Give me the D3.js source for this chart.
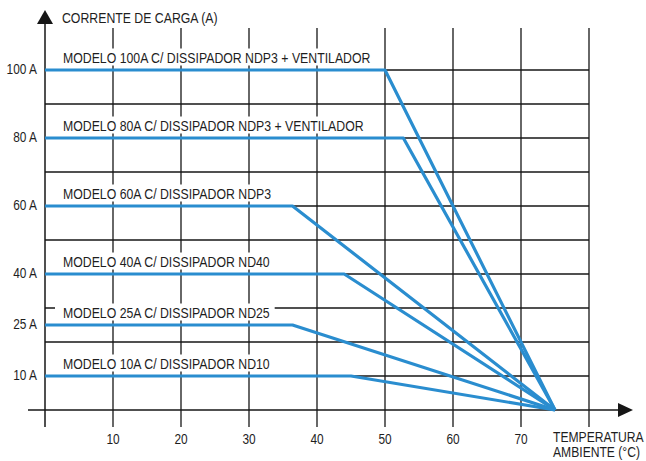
<!DOCTYPE html>
<html>
<head>
<meta charset="utf-8">
<script src="https://cdn.jsdelivr.net/npm/d3@7/dist/d3.min.js"></script>
<style>
  html, body { margin: 0; padding: 0; background: #fff; }
  svg { display: block; }
</style>
</head>
<body>
<script>
// ---- data ----
const modelLabels = [
  "MODELO 100A C/ DISSIPADOR NDP3 + VENTILADOR",
  "MODELO 80A C/ DISSIPADOR NDP3 + VENTILADOR",
  "MODELO 60A C/ DISSIPADOR NDP3",
  "MODELO 40A C/ DISSIPADOR ND40",
  "MODELO 25A C/ DISSIPADOR ND25",
  "MODELO 10A C/ DISSIPADOR ND10"
];
const ratedCurrents = [100, 80, 60, 40, 25, 10];
const kneeTemps = [50, 52.7, 36.4, 44, 36.4, 45];
const zeroCurrentTemp = 75;
const xGridTicks = [10, 20, 30, 40, 50, 60, 70, 80];
const xTickLabels = [10, 20, 30, 40, 50, 60, 70];
const yGridTicks = [10, 20, 30, 40, 50, 60, 70, 80, 90, 100];
const yTickValues = [10, 25, 40, 60, 80, 100];
const yTickLabels = ["10 A", "25 A", "40 A", "60 A", "80 A", "100 A"];
const yTitle = "CORRENTE DE CARGA (A)";
const xTitle = ["TEMPERATURA", "AMBIENTE (°C)"];

// ---- setup ----
const W = 646, H = 461;
const svg = d3.select("body").append("svg").attr("width", W).attr("height", H);
svg.append("rect").attr("width", W).attr("height", H).attr("fill", "#fff");

const x = d3.scaleLinear().domain([0, 80]).range([45, 589]);
const y = d3.scaleLinear().domain([0, 100]).range([410, 70]);

const ink = "#161616";
const blue = "#2a8dcf";

// font detection: is a narrow font really installed?
function w(family) {
  const t = svg.append("text").attr("font-size", 15).attr("font-family", family)
    .text("MODELO 100A C/ DISSIPADOR");
  const v = t.node().getComputedTextLength();
  t.remove();
  return v;
}
const hasNarrow = Math.abs(w("'Liberation Sans Narrow', monospace") - w("'Liberation Sans Narrow', serif")) < 0.5;
const fam = hasNarrow ? "'Liberation Sans Narrow', sans-serif" : "'Liberation Sans', Arial, sans-serif";
const sx = hasNarrow ? 1 : 0.82;

function addText(parent, str, px, py, size, anchor) {
  const g = parent.append("g").attr("transform", `translate(${px},${py}) scale(${sx},1)`);
  return g.append("text").attr("font-family", fam).attr("font-size", size)
    .attr("fill", "#1e1e1e").attr("text-anchor", anchor || "start").text(str);
}

// ---- grid ----
const grid = svg.append("g");
grid.selectAll("line.v").data(xGridTicks).join("line")
  .attr("x1", d => x(d)).attr("x2", d => x(d))
  .attr("y1", 28).attr("y2", 427)
  .attr("stroke", ink).attr("stroke-width", 1.3);
grid.selectAll("line.h").data(yGridTicks).join("line")
  .attr("x1", x(0)).attr("x2", x(80))
  .attr("y1", d => y(d)).attr("y2", d => y(d))
  .attr("stroke", ink).attr("stroke-width", 1.3);

// axes
svg.append("line").attr("x1", 28).attr("x2", 620).attr("y1", y(0)).attr("y2", y(0))
  .attr("stroke", ink).attr("stroke-width", 1.5);
svg.append("line").attr("x1", x(0)).attr("x2", x(0)).attr("y1", 427).attr("y2", 20)
  .attr("stroke", ink).attr("stroke-width", 1.5);
// arrowheads
svg.append("path").attr("d", `M${x(0) - 8},24 L${x(0)},10 L${x(0) + 8},24 Z`).attr("fill", ink);
svg.append("path").attr("d", `M618,${y(0) - 7} L633,${y(0)} L618,${y(0) + 7} Z`).attr("fill", ink);

// ---- model labels with white background ----
const labG = svg.append("g");
modelLabels.forEach((lab, i) => {
  const by = y(ratedCurrents[i]) - 7.5;
  const t = addText(labG, lab, 63, by, 15, "start");
  const tw = t.node().getComputedTextLength() * sx;
  labG.insert("rect", ":first-child")
    .attr("x", 55).attr("y", by - 14).attr("width", tw + 13).attr("height", 17)
    .attr("fill", "#fff");
});

// ---- derating curves ----
const line = d3.line().x(d => x(d[0])).y(d => y(d[1]));
const curves = svg.append("g");
ratedCurrents.forEach((c, i) => {
  const pts = [[0, c], [kneeTemps[i], c], [zeroCurrentTemp, 0]];
  curves.append("path").attr("d", line(pts))
    .attr("fill", "none").attr("stroke", blue).attr("stroke-width", 3.2)
    .attr("stroke-linejoin", "round");
});

// ---- tick labels ----
const tl = svg.append("g");
xTickLabels.forEach(v => addText(tl, String(v), x(v), 444, 14.5, "middle"));
yTickLabels.forEach((s, i) => addText(tl, s, 37, y(yTickValues[i]) + 4, 14.5, "end"));

// titles
addText(svg, yTitle, 62, 23, 15, "start");
addText(svg, xTitle[0], 553, 442, 14.8, "start");
addText(svg, xTitle[1], 553, 457, 14.8, "start");
</script>
</body>
</html>
